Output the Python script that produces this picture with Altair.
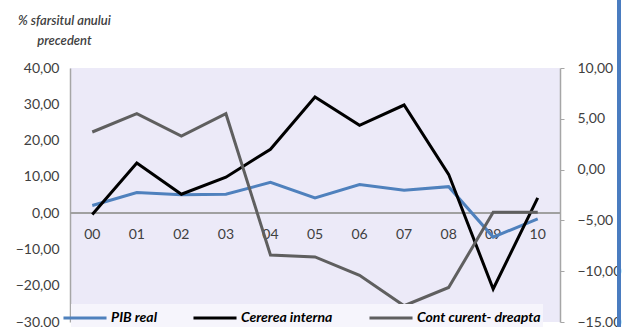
import altair as alt
import pandas as pd

years = ["00", "01", "02", "03", "04", "05", "06", "07", "08", "09", "10"]
pib_real = [2.1, 5.7, 5.1, 5.2, 8.5, 4.2, 7.9, 6.3, 7.3, -6.6, -1.6]
cererea_interna = [-0.4, 13.8, 5.2, 9.9, 17.6, 32.0, 24.2, 29.8, 10.7, -20.9, 4.2]
cont_curent = [3.7, 5.5, 3.3, 5.5, -8.4, -8.6, -10.4, -13.4, -11.6, -4.2, -4.2]

series_names = ["PIB real", "Cererea interna", "Cont curent- dreapta"]
series_colors = ["#4F81BD", "#000000", "#5F5F5F"]
left_ticks = [-30, -20, -10, 0, 10, 20, 30, 40]
right_ticks = [-15, -10, -5, 0, 5, 10]

rows = []
for name, vals in zip(series_names, [pib_real, cererea_interna, cont_curent]):
    for y, v in zip(years, vals):
        rows.append({"year": y, "series": name, "value": v})
df = pd.DataFrame(rows)
df_left = df[df.series != "Cont curent- dreapta"]
df_right = df[df.series == "Cont curent- dreapta"]
df_years = pd.DataFrame({"year": years})

FONT = "Lato"
lab = "replace(format(datum.value, '.2f'), '.', ',')"

color = alt.Color(
    "series:N",
    scale=alt.Scale(domain=series_names, range=series_colors),
    legend=alt.Legend(
        title=None, orient="none", legendX=1, legendY=236, direction="horizontal",
        symbolType="M-2.05,0H2.05", symbolSize=441, symbolStrokeWidth=3,
        labelFont=FONT, labelFontSize=14, labelFontStyle="italic", labelFontWeight="bold",
        labelColor="#000000", columnPadding=30, labelOffset=14, padding=2,
        fillColor="#F6F5FC", labelLimit=300,
    ),
)

x = alt.X("year:N", axis=None, sort=years, scale=alt.Scale(padding=0.5))

left_axis = alt.Axis(
    values=left_ticks, labelExpr=lab, labelFont=FONT, labelFontSize=14, labelColor="#404040",
    domainColor="#A6A6A6", domainWidth=1.5, ticks=False, grid=False, labelPadding=11,
    title=["% sfarsitul anului", "precedent"], titleAngle=0, titleX=-6, titleY=-44,
    titleAlign="center", titleBaseline="alphabetic", titleFont=FONT, titleFontSize=13,
    titleFontStyle="italic", titleFontWeight=600, titleColor="#404040", titleLineHeight=20,
    orient="left",
)
left_scale = alt.Scale(domain=[-30, 40], nice=False, zero=False)
yl = alt.Y("value:Q", scale=left_scale, axis=left_axis)

zero_rule = alt.Chart(df_years).mark_rule(color="#A0A0A0", strokeWidth=1).encode(
    y=alt.Y(datum=0, scale=left_scale, axis=left_axis)
)
year_text = alt.Chart(df_years).mark_text(
    font=FONT, fontSize=14, color="#404040", baseline="middle", dy=22
).encode(x=x, y=alt.Y(datum=0, scale=left_scale, axis=left_axis), text="year:N")
left_lines = alt.Chart(df_left).mark_line(strokeWidth=3).encode(x=x, y=yl, color=color)
left = alt.layer(zero_rule, year_text, left_lines)

right_axis = alt.Axis(
    values=right_ticks, labelExpr=lab, labelFont=FONT, labelFontSize=14, labelColor="#404040",
    domainColor="#A6A6A6", domainWidth=1.5, ticks=True, tickColor="#A6A6A6", tickSize=4,
    grid=False, labelPadding=13, title=None, orient="right",
)
right = alt.Chart(df_right).mark_line(strokeWidth=3).encode(
    x=x,
    y=alt.Y("value:Q", scale=alt.Scale(domain=[-15, 10], nice=False, zero=False), axis=right_axis),
    color=color,
)

border = alt.Chart(df_years).mark_rule(color="#4A7CC0", strokeWidth=3).encode(
    x=alt.value(549), y=alt.value(-68), y2=alt.value(259)
)

chart = (
    alt.layer(left, right, border)
    .resolve_scale(y="independent")
    .properties(
        width=490, height=254,
        autosize=alt.AutoSizeParams(type="none"),
        padding={"left": 70, "top": 68, "right": 63, "bottom": 5},
        background="#FFFFFF",
    )
    .configure_view(fill="#ECEAF8", stroke=None)
)

chart.save("out.html", embed_options={"renderer": "svg", "actions": False})
